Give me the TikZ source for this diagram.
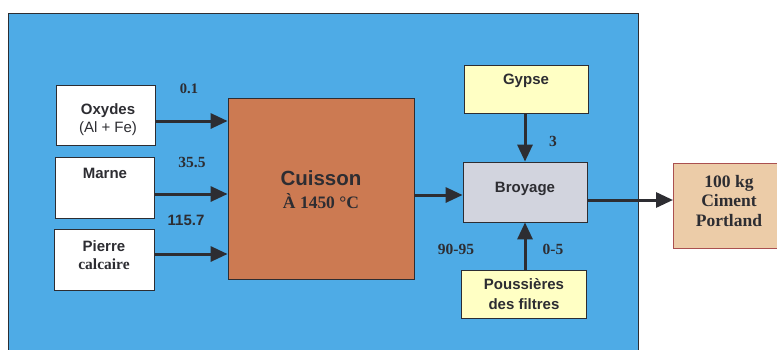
\documentclass[tikz,border=0pt]{standalone}
\usepackage{fontspec}
\setmainfont{Liberation Serif}
\newfontfamily\ars{Liberation Sans}
\usetikzlibrary{arrows.meta}
\definecolor{bgblue}{RGB}{78,171,230}
\definecolor{cuiscol}{RGB}{204,122,82}
\definecolor{yel}{RGB}{255,255,196}
\definecolor{gry}{RGB}{210,212,222}
\definecolor{tan}{RGB}{236,204,168}
\definecolor{tanborder}{RGB}{170,80,80}
\definecolor{ink}{RGB}{45,45,50}
\tikzset{
  box/.style={draw=ink, line width=0.8pt, rectangle, inner sep=0pt},
  arr/.style={draw=ink, line width=3pt, -{Triangle[length=17pt,width=15pt]}},
  sanslbl/.style={font=\ars\bfseries\fontsize{15}{17}\selectfont, text=ink, align=center},
  seriflbl/.style={font=\bfseries\fontsize{15.5}{17}\selectfont, text=ink, align=center},
}
\begin{document}
\begin{tikzpicture}[x=1pt,y=-1pt]
\useasboundingbox (0,0) rectangle (777,349);
\fill[white] (0,0) rectangle (777,349);
% blue background
\node[box, fill=bgblue, minimum width=630pt, minimum height=345pt, anchor=north west] (bg) at (8,13) {};
% input boxes
\node[box, fill=white, minimum width=99pt, minimum height=60pt] (oxy) at (105.5,115) {};
\node[sanslbl, font=\ars\bfseries\fontsize{15}{18}\selectfont] (oxyt) at (108,120) {Oxydes\\{\mdseries (Al + Fe)}};
\node[box, fill=white, minimum width=99pt, minimum height=61pt] (marne) at (104.5,187.5) {};
\node[sanslbl] (marnet) at (105,173) {Marne};
\node[box, fill=white, minimum width=100pt, minimum height=61pt] (pierre) at (104,259.5) {};
\node[sanslbl] (pierret) at (104,246) {Pierre};
\node[seriflbl] (calct) at (104,264) {calcaire};
% cuisson
\node[box, fill=cuiscol, minimum width=186pt, minimum height=181pt] (cuis) at (321,188.5) {};
\node[font=\ars\bfseries\fontsize{20.5}{22}\selectfont, text=ink] (cuist) at (321,178) {Cuisson};
\node[font=\bfseries\fontsize{17.5}{19}\selectfont, text=ink] (tempt) at (321,201) {À 1450 °C};
% gypse, broyage, poussieres
\node[box, fill=yel, minimum width=124pt, minimum height=48pt] (gyp) at (526,89) {};
\node[sanslbl] (gypt) at (526,81) {Gypse};
\node[box, fill=gry, minimum width=124pt, minimum height=60pt] (broy) at (525,192) {};
\node[sanslbl] (broyt) at (525,189) {Broyage};
\node[box, fill=yel, minimum width=125pt, minimum height=48pt] (pous) at (523.5,294) {};
\node[sanslbl, font=\ars\bfseries\fontsize{15}{20}\selectfont] (poust) at (524,294) {Poussières\\des filtres};
% output
\node[box, draw=tanborder, fill=tan, minimum width=110pt, minimum height=85pt, anchor=west] (port) at (673,205.5) {};
\node[seriflbl, font=\bfseries\fontsize{17.5}{19.5}\selectfont] (portt) at (729,201) {100 kg\\Ciment\\Portland};
% arrows
\draw[arr] (oxy.east |- 0,121) -- (cuis.west |- 0,121);
\draw[arr] (marne.east |- 0,194) -- (cuis.west |- 0,194);
\draw[arr] (pierre.east |- 0,254) -- (cuis.west |- 0,254);
\draw[arr] (cuis.east |- 0,195) -- (broy.west |- 0,195);
\draw[arr] (gyp.south -| 525,0) -- (broy.north -| 525,0);
\draw[arr] (pous.north -| 525,0) -- (broy.south -| 525,0);
\draw[arr] (broy.east |- 0,200) -- (port.west |- 0,200);
% flow labels
\node[seriflbl, font=\bfseries\fontsize{14.5}{16}\selectfont] (l1) at (189,89) {0.1};
\node[seriflbl] (l2) at (192,162) {35.5};
\node[sanslbl] (l3) at (186,220) {115.7};
\node[seriflbl] (l4) at (553,141) {3};
\node[seriflbl] (l5) at (456,249) {90-95};
\node[seriflbl] (l6) at (553,249) {0-5};
\end{tikzpicture}
\end{document}
